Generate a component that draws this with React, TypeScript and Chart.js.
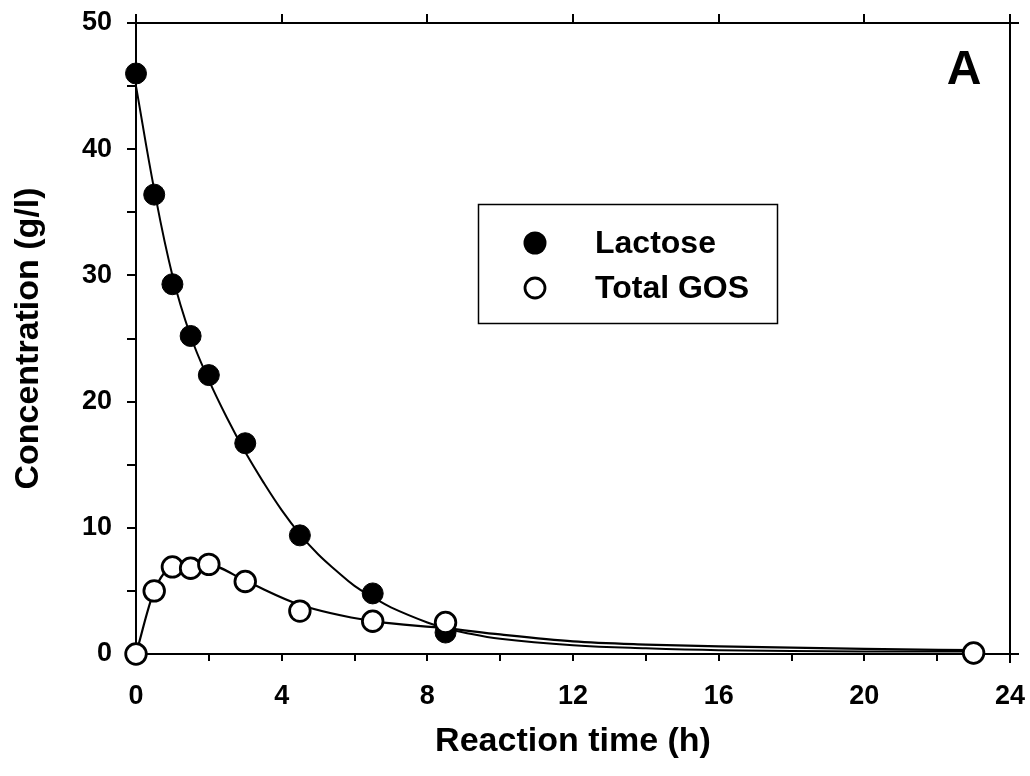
import React, { useEffect, useRef } from "react";
import { Chart, registerables } from "chart.js";

Chart.register(...registerables);

const FONT = '"Liberation Sans", Arial, Helvetica, sans-serif';

// Measured points
const timeH = [0, 0.5, 1, 1.5, 2, 3, 4.5, 6.5, 8.5, 23];
const lactoseGL = [46.0, 36.4, 29.3, 25.2, 22.1, 16.7, 9.4, 4.8, 1.7, 0.05];
const gosGL = [0, 5.0, 6.9, 6.8, 7.1, 5.75, 3.4, 2.6, 2.5, 0.08];

// Fitted curves
const lactoseFitTime = [0, 0.5, 1, 1.5, 2, 2.5, 3, 3.5, 4, 4.5, 5, 5.5, 6, 6.5, 7, 8, 8.5, 9, 10, 12, 14, 16, 20, 23];
const lactoseFit = [45.0, 36.8, 30.0, 25.2, 21.7, 18.7, 16.0, 13.6, 11.4, 9.5, 7.9, 6.6, 5.4, 4.5, 3.7, 2.5, 2.05, 1.7, 1.2, 0.7, 0.45, 0.3, 0.2, 0.2];
const gosFitTime = [0, 0.5, 1, 1.5, 2, 3, 4.5, 6.5, 8.5, 10, 12, 14, 16, 20, 23];
const gosFit = [0, 5.0, 6.9, 7.05, 7.05, 5.8, 3.9, 2.6, 2.05, 1.55, 1.0, 0.75, 0.6, 0.4, 0.3];

// Axis ticks
const xTickStep = 2;
const xLabelEvery = 4;
const yTickStep = 5;
const yLabelEvery = 10;
const topTickValues = [4, 8, 12, 16, 20];

const legendLabels = ["Lactose", "Total GOS"];
const panelLabel = "A";

const toPts = (xs: number[], ys: number[]) => xs.map((x, i) => ({ x, y: ys[i] }));

export default function App() {
  const ref = useRef<HTMLCanvasElement>(null);

  useEffect(() => {
    if (!ref.current) return;

    const framePlugin = {
      id: "frame",
      beforeDatasetsDraw(chart: any) {
        const { ctx, chartArea } = chart;
        const { left, right, top, bottom } = chartArea;
        const xs = chart.scales.x;
        ctx.save();
        ctx.strokeStyle = "#000";
        ctx.lineWidth = 2;
        ctx.lineCap = "butt";
        ctx.beginPath();
        ctx.moveTo(left - 9, top);
        ctx.lineTo(right + 9, top);
        ctx.moveTo(right, top - 9);
        ctx.lineTo(right, bottom + 9);
        ctx.moveTo(left, top - 9);
        ctx.lineTo(left, top);
        ctx.moveTo(right, bottom);
        ctx.lineTo(right + 9, bottom);
        topTickValues.forEach((v) => {
          const px = Math.round(xs.getPixelForValue(v));
          ctx.moveTo(px, top);
          ctx.lineTo(px, top - 9);
        });
        ctx.stroke();
        ctx.restore();
      },
      afterDraw(chart: any) {
        const { ctx } = chart;
        ctx.save();
        ctx.strokeStyle = "#000";
        ctx.lineWidth = 1.5;
        ctx.strokeRect(478.5, 204.5, 299, 119);
        ctx.beginPath();
        ctx.arc(535, 243, 11.5, 0, Math.PI * 2);
        ctx.fillStyle = "#000";
        ctx.fill();
        ctx.beginPath();
        ctx.arc(535, 288, 10, 0, Math.PI * 2);
        ctx.fillStyle = "#fff";
        ctx.fill();
        ctx.lineWidth = 2.8;
        ctx.stroke();
        ctx.fillStyle = "#000";
        ctx.font = `bold 32px ${FONT}`;
        ctx.textAlign = "left";
        ctx.textBaseline = "middle";
        ctx.fillText(legendLabels[0], 595, 244);
        ctx.fillText(legendLabels[1], 595, 289);
        ctx.font = `bold 48px ${FONT}`;
        ctx.textAlign = "center";
        ctx.fillText(panelLabel, 964, 71);
        ctx.restore();
      },
    };

    const tickFont = { family: FONT, size: 27, weight: "bold" as const, lineHeight: 1 };
    const titleFont = { family: FONT, size: 34, weight: "bold" as const, lineHeight: 1 };

    const chart = new Chart(ref.current, {
      type: "scatter",
      data: {
        datasets: [
          {
            label: legendLabels[1],
            data: toPts(timeH, gosGL),
            showLine: false,
            pointRadius: 10.3,
            pointBorderWidth: 2.8,
            pointBackgroundColor: "#fff",
            pointBorderColor: "#000",
            clip: false,
            order: 0,
          },
          {
            label: legendLabels[0],
            data: toPts(timeH, lactoseGL),
            showLine: false,
            pointRadius: 10.5,
            pointBorderWidth: 1,
            pointBackgroundColor: "#000",
            pointBorderColor: "#000",
            clip: false,
            order: 1,
          },
          {
            label: "Lactose fit",
            data: toPts(lactoseFitTime, lactoseFit),
            showLine: true,
            pointRadius: 0,
            borderColor: "#000",
            borderWidth: 2,
            tension: 0.4,
            clip: false,
            order: 2,
          },
          {
            label: "GOS fit",
            data: toPts(gosFitTime, gosFit),
            showLine: true,
            pointRadius: 0,
            borderColor: "#000",
            borderWidth: 2.2,
            cubicInterpolationMode: "monotone",
            clip: false,
            order: 2,
          },
        ] as any,
      },
      options: {
        animation: false,
        responsive: false,
        events: [],
        layout: { padding: { left: 0, top: 23, right: 20, bottom: 0 } },
        plugins: { legend: { display: false }, tooltip: { enabled: false } },
        scales: {
          x: {
            type: "linear",
            position: "bottom",
            min: 0,
            max: 24,
            ticks: {
              stepSize: xTickStep,
              autoSkip: false,
              maxRotation: 0,
              callback: (v: any) => (Number(v) % xLabelEvery === 0 ? String(v) : ""),
              font: tickFont,
              color: "#000",
              padding: 22,
            },
            grid: { drawOnChartArea: false, drawTicks: true, tickLength: 7, color: "#000", lineWidth: 2 },
            border: { display: true, color: "#000", width: 2 },
            title: {
              display: true,
              text: "Reaction time (h)",
              font: titleFont,
              color: "#000",
              padding: { top: 0, bottom: 17 },
            },
            afterFit: (s: any) => {
              s.height = 122;
              s.paddingLeft = 0;
              s.paddingRight = 0;
            },
          },
          y: {
            type: "linear",
            position: "left",
            min: 0,
            max: 50,
            ticks: {
              stepSize: yTickStep,
              autoSkip: false,
              callback: (v: any) => (Number(v) % yLabelEvery === 0 ? String(v) : ""),
              font: tickFont,
              color: "#000",
              padding: 15,
            },
            grid: { drawOnChartArea: false, drawTicks: true, tickLength: 9, color: "#000", lineWidth: 2 },
            border: { display: true, color: "#000", width: 2 },
            title: {
              display: true,
              text: "Concentration (g/l)",
              font: titleFont,
              color: "#000",
              padding: { top: 12, bottom: 0 },
            },
            afterFit: (s: any) => {
              s.width = 136;
              s.paddingTop = 0;
              s.paddingBottom = 0;
            },
          },
        },
      } as any,
      plugins: [framePlugin],
    });

    return () => chart.destroy();
  }, []);

  return (
    <div style={{ position: "absolute", left: 0, top: 0, width: 1030, height: 776, background: "#fff" }}>
      <canvas ref={ref} width={1030} height={776} style={{ display: "block" }} />
    </div>
  );
}
